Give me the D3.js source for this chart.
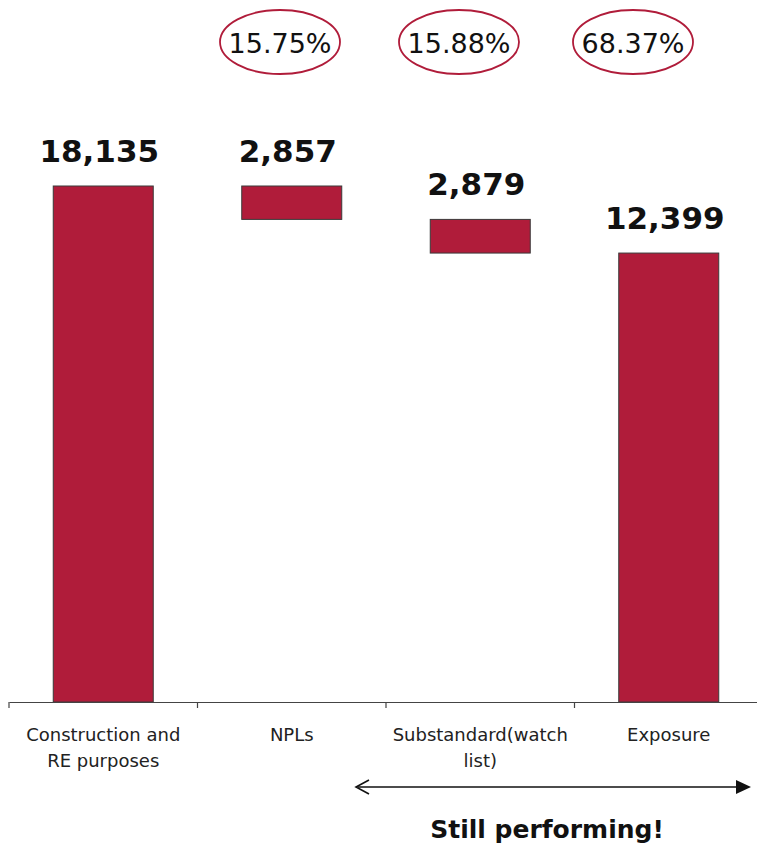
<!DOCTYPE html>
<html>
<head>
<meta charset="utf-8">
<script src="https://cdn.jsdelivr.net/npm/d3@7"></script>
<style>
  html, body { margin: 0; padding: 0; background: #fff; }
  svg { display: block; }
</style>
</head>
<body>
<svg id="chart" width="757" height="850"></svg>
<script>
// Categories and values of the construction / real-estate waterfall
const categories = ["Construction and RE purposes", "NPLs", "Substandard(watch list)", "Exposure"];
const categoryLines = [["Construction and", "RE purposes"], ["NPLs"], ["Substandard(watch", "list)"], ["Exposure"]];
const values = [18135, 2857, 2879, 12399];
const kinds = ["total", "step", "step", "total"];
// Share of the total for each of the later categories
const shares = ["15.75%", "15.88%", "68.37%"];
const shareCenters = [280, 459, 633];

const svg = d3.select("#chart");
const baseY = 702;
const barFill = "#B01C3A";
const barStroke = "#3a3a3a";
const font = "'DejaVu Sans', Verdana, sans-serif";

// Waterfall segments: totals stand on the baseline, steps float down from the running level
let running = 0;
const segs = values.map((v, i) => {
  let lo, hi;
  if (kinds[i] === "total") { lo = null; hi = v; running = v; }
  else { hi = running; lo = running - v; running = lo; }
  return { cat: categories[i], value: v, lo, hi };
});

const x = d3.scaleBand().domain(categories).range([9, 763]).padding(0);
const y = d3.scaleLinear().domain([-26000, 18135]).range([baseY, 186]);
const barW = 100;

// Bars
svg.append("g").selectAll("rect").data(segs).join("rect")
  .attr("x", d => x(d.cat) + x.bandwidth() / 2 - barW / 2)
  .attr("y", d => y(d.hi))
  .attr("width", barW)
  .attr("height", d => (d.lo === null ? baseY : y(d.lo)) - y(d.hi))
  .attr("fill", barFill)
  .attr("stroke", barStroke)
  .attr("stroke-width", 1);

// Value labels
svg.append("g").selectAll("text").data(segs).join("text")
  .attr("x", d => x(d.cat) + x.bandwidth() / 2 - 4)
  .attr("y", d => y(d.hi) - 24)
  .attr("text-anchor", "middle")
  .attr("font-family", font)
  .attr("font-weight", "bold")
  .attr("font-size", 31)
  .attr("fill", "#111")
  .text(d => d3.format(",")(d.value));

// Category axis
const axis = svg.append("g").attr("transform", `translate(0,${baseY})`)
  .call(d3.axisBottom(x).tickSize(0).tickFormat(""));
axis.select(".domain").attr("stroke", "#444").attr("stroke-width", 1.2);
const bounds = categories.map(c => x(c));
axis.selectAll("line.bound").data(bounds).join("line")
  .attr("class", "bound")
  .attr("x1", d => d).attr("x2", d => d)
  .attr("y1", 0).attr("y2", 6)
  .attr("stroke", "#444").attr("stroke-width", 1.2);

const catText = svg.append("g").selectAll("text").data(categories).join("text")
  .attr("x", d => x(d) + x.bandwidth() / 2)
  .attr("y", 741)
  .attr("text-anchor", "middle")
  .attr("font-family", font)
  .attr("font-size", 18)
  .attr("fill", "#222");
catText.each(function(d, i) {
  d3.select(this).selectAll("tspan").data(categoryLines[i]).join("tspan")
    .attr("x", x(d) + x.bandwidth() / 2)
    .attr("dy", (t, j) => j === 0 ? 0 : 26)
    .text(t => t);
});

// Share bubbles
const bubbles = svg.append("g").selectAll("g").data(shares).join("g")
  .attr("transform", (d, i) => `translate(${shareCenters[i]},42)`);
bubbles.append("ellipse")
  .attr("rx", 60).attr("ry", 32)
  .attr("fill", "none").attr("stroke", barFill).attr("stroke-width", 1.8);
bubbles.append("text")
  .attr("y", 11)
  .attr("text-anchor", "middle")
  .attr("font-family", font)
  .attr("font-size", 27)
  .attr("fill", "#111")
  .text(d => d);

// "Still performing" span arrow
const ay = 787, ax1 = 356, ax2 = 751;
svg.append("line")
  .attr("x1", ax1 + 2).attr("x2", ax2 - 12)
  .attr("y1", ay).attr("y2", ay)
  .attr("stroke", "#111").attr("stroke-width", 1.6);
svg.append("path")
  .attr("d", `M${ax1 + 13},${ay - 7} L${ax1},${ay} L${ax1 + 13},${ay + 7}`)
  .attr("fill", "none").attr("stroke", "#111").attr("stroke-width", 1.6);
svg.append("path")
  .attr("d", `M${ax2},${ay} L${ax2 - 15},${ay - 7} L${ax2 - 15},${ay + 7} Z`)
  .attr("fill", "#111");

svg.append("text")
  .attr("x", 547).attr("y", 838)
  .attr("text-anchor", "middle")
  .attr("font-family", font)
  .attr("font-weight", "bold")
  .attr("font-size", 25)
  .attr("fill", "#111")
  .text("Still performing!");
</script>
</body>
</html>
